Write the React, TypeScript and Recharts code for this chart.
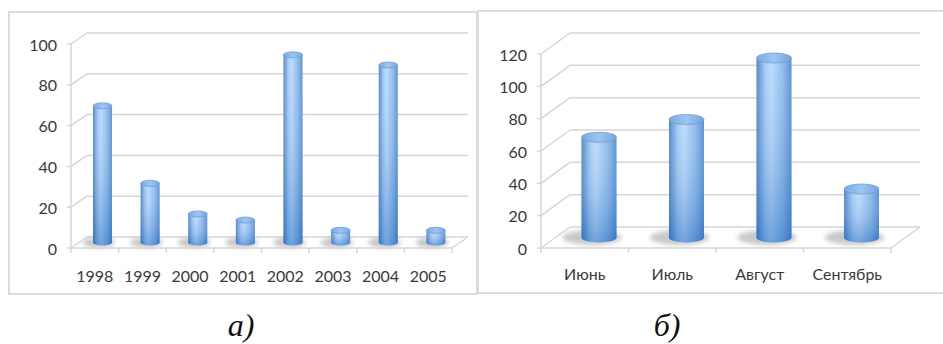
import React from 'react';
import { BarChart, Bar, XAxis, YAxis, CartesianGrid } from 'recharts';

const years = ['1998', '1999', '2000', '2001', '2002', '2003', '2004', '2005'];
const yearValues = [67, 29, 14, 11, 92, 6, 87, 6];
const yearTicks = [0, 20, 40, 60, 80, 100];

const months = ['Июнь', 'Июль', 'Август', 'Сентябрь'];
const monthValues = [62, 73, 111, 30];
const monthTicks = [0, 20, 40, 60, 80, 100, 120];

const captions = ['а)', 'б)'];

const yearData = years.map((name, i) => ({ name, value: yearValues[i] }));
const monthData = months.map((name, i) => ({ name, value: monthValues[i] }));

const GRID = '#d6d6d6';
const TEXT = '#3a3a3a';
const FONT = "Lato, 'Open Sans', sans-serif";
const FS = 16;

type Cfg = {
  dx: number; dy: number; band: number; step: number; ry: number; labelOffset: number; count: number; max: number;
};

function Cylinder(props: any) {
  const { x, y, width, height, cfg } = props;
  const c: Cfg = cfg;
  const cx = x + width / 2 - c.dx / 2;
  const top = y + c.dy / 2;
  const bottom = y + height + c.dy / 2;
  const l = cx - width / 2;
  const r = cx + width / 2;
  const body = `M${l},${top} L${l},${bottom} A${width / 2},${c.ry} 0 0 0 ${r},${bottom} L${r},${top} Z`;
  return (
    <g>
      <ellipse cx={cx - width * 0.2} cy={bottom} rx={width * 0.85} ry={c.ry + 2.5} fill="#b8b8b8" opacity={0.75} filter="url(#shadowBlur)" />
      <path d={body} fill="url(#cylH)" />
      <path d={body} fill="url(#cylV)" />
      <ellipse cx={cx} cy={top} rx={width / 2} ry={c.ry} fill="url(#cylTop)" stroke="#6c9fd9" strokeWidth={0.8} />
    </g>
  );
}

function XTick(props: any) {
  const { x, y, payload, index, cfg } = props;
  const c: Cfg = cfg;
  const fx = x - c.dx;
  const fy = y + c.dy;
  const last = index === c.count - 1;
  return (
    <g>
      <line x1={fx - c.band / 2} y1={fy} x2={fx + c.band / 2} y2={fy} stroke={GRID} strokeWidth={1.5} />
      <line x1={fx - c.band / 2} y1={fy} x2={fx - c.band / 2} y2={fy + 5} stroke={GRID} strokeWidth={1.5} />
      {last && (
        <>
          <line x1={fx + c.band / 2} y1={fy} x2={fx + c.band / 2} y2={fy + 5} stroke={GRID} strokeWidth={1.5} />
          <line x1={fx + c.band / 2} y1={fy} x2={fx + c.band / 2 + c.dx} y2={y} stroke={GRID} strokeWidth={1.5} />
        </>
      )}
      <text x={fx} y={fy + c.labelOffset} textAnchor="middle" dominantBaseline="central" fill={TEXT} fontSize={FS} fontFamily={FONT}>
        {payload.value}
      </text>
    </g>
  );
}

function YTick(props: any) {
  const { x, y, payload, cfg } = props;
  const c: Cfg = cfg;
  const fx = x - c.dx;
  const fy = y + c.dy;
  return (
    <g>
      <line x1={fx} y1={fy} x2={x} y2={y} stroke={GRID} strokeWidth={1.5} />
      <line x1={fx - 4} y1={fy} x2={fx} y2={fy} stroke={GRID} strokeWidth={1.5} />
      {payload.value < c.max && <line x1={fx} y1={fy} x2={fx} y2={fy - c.step} stroke={GRID} strokeWidth={1.5} />}
      <text x={fx - 14} y={fy} textAnchor="end" dominantBaseline="central" fill={TEXT} fontSize={FS} fontFamily={FONT}>
        {payload.value}
      </text>
    </g>
  );
}

const leftCfg: Cfg = { dx: 16, dy: 11, band: 381 / 8, step: 204 / 5, ry: 3, labelOffset: 27, count: 8, max: 100 };
const rightCfg: Cfg = { dx: 29, dy: 21, band: 350 / 4, step: 194 / 6, ry: 5, labelOffset: 25, count: 4, max: 120 };

export default function App() {
  return (
    <div style={{ position: 'absolute', left: 0, top: 0, width: 943, height: 344, background: '#fff', overflow: 'hidden' }}>
      <svg width={0} height={0} style={{ position: 'absolute' }}>
        <defs>
          <linearGradient id="cylH" x1="0" y1="0" x2="1" y2="0">
            <stop offset="0%" stopColor="#3f7cc6" />
            <stop offset="25%" stopColor="#9cc6f3" />
            <stop offset="42%" stopColor="#b6d8fb" />
            <stop offset="75%" stopColor="#84b5ea" />
            <stop offset="100%" stopColor="#4a87d0" />
          </linearGradient>
          <linearGradient id="cylV" x1="0" y1="0" x2="0" y2="1">
            <stop offset="0%" stopColor="#ffffff" stopOpacity={0.1} />
            <stop offset="100%" stopColor="#1d62b8" stopOpacity={0.45} />
          </linearGradient>
          <linearGradient id="cylTop" x1="0" y1="0" x2="1" y2="0">
            <stop offset="0%" stopColor="#78a9e3" />
            <stop offset="50%" stopColor="#9fc5f0" />
            <stop offset="100%" stopColor="#74a5df" />
          </linearGradient>
          <filter id="shadowBlur" x="-50%" y="-100%" width="200%" height="300%">
            <feGaussianBlur stdDeviation="2" />
          </filter>
        </defs>
      </svg>

      <div style={{ position: 'absolute', left: 8, top: 11, width: 470, height: 284, border: '2px solid #dcdcdc', boxSizing: 'border-box' }} />
      <div style={{ position: 'absolute', left: 477, top: 10, width: 480, height: 284, border: '2px solid #dcdcdc', boxSizing: 'border-box' }} />

      <div style={{ position: 'absolute', left: 0, top: 0 }}>
        <BarChart width={480} height={300} data={yearData} margin={{ top: 33, right: 12, bottom: 23, left: 47 }} barCategoryGap={0}>
          <CartesianGrid vertical={false} stroke={GRID} strokeWidth={1.5} />
          <XAxis dataKey="name" height={40} axisLine={false} tickLine={false} tickSize={0} tickMargin={0} interval={0}
            tick={(p: any) => <XTick {...p} cfg={leftCfg} />} />
          <YAxis width={40} domain={[0, 100]} ticks={yearTicks} axisLine={false} tickLine={false} tickSize={0} tickMargin={0} interval={0}
            tick={(p: any) => <YTick {...p} cfg={leftCfg} />} />
          <Bar dataKey="value" barSize={19} isAnimationActive={false} shape={(p: any) => <Cylinder {...p} cfg={leftCfg} />} />
        </BarChart>
      </div>

      <div style={{ position: 'absolute', left: 480, top: 0 }}>
        <BarChart width={463} height={300} data={monthData} margin={{ top: 33, right: 23, bottom: 33, left: 50 }} barCategoryGap={0}>
          <CartesianGrid vertical={false} stroke={GRID} strokeWidth={1.5} />
          <XAxis dataKey="name" height={40} axisLine={false} tickLine={false} tickSize={0} tickMargin={0} interval={0}
            tick={(p: any) => <XTick {...p} cfg={rightCfg} />} />
          <YAxis width={40} domain={[0, 120]} ticks={monthTicks} axisLine={false} tickLine={false} tickSize={0} tickMargin={0} interval={0}
            tick={(p: any) => <YTick {...p} cfg={rightCfg} />} />
          <Bar dataKey="value" barSize={35} isAnimationActive={false} shape={(p: any) => <Cylinder {...p} cfg={rightCfg} />} />
        </BarChart>
      </div>

      <svg width={943} height={344} style={{ position: 'absolute', left: 0, top: 0, pointerEvents: 'none' }}>
        <text x={241} y={336} textAnchor="middle" fontFamily="'Liberation Serif', serif" fontStyle="italic" fontSize={32} fill="#111">{captions[0]}</text>
        <text x={667} y={336} textAnchor="middle" fontFamily="'Liberation Serif', serif" fontStyle="italic" fontSize={32} fill="#111">{captions[1]}</text>
      </svg>
    </div>
  );
}
